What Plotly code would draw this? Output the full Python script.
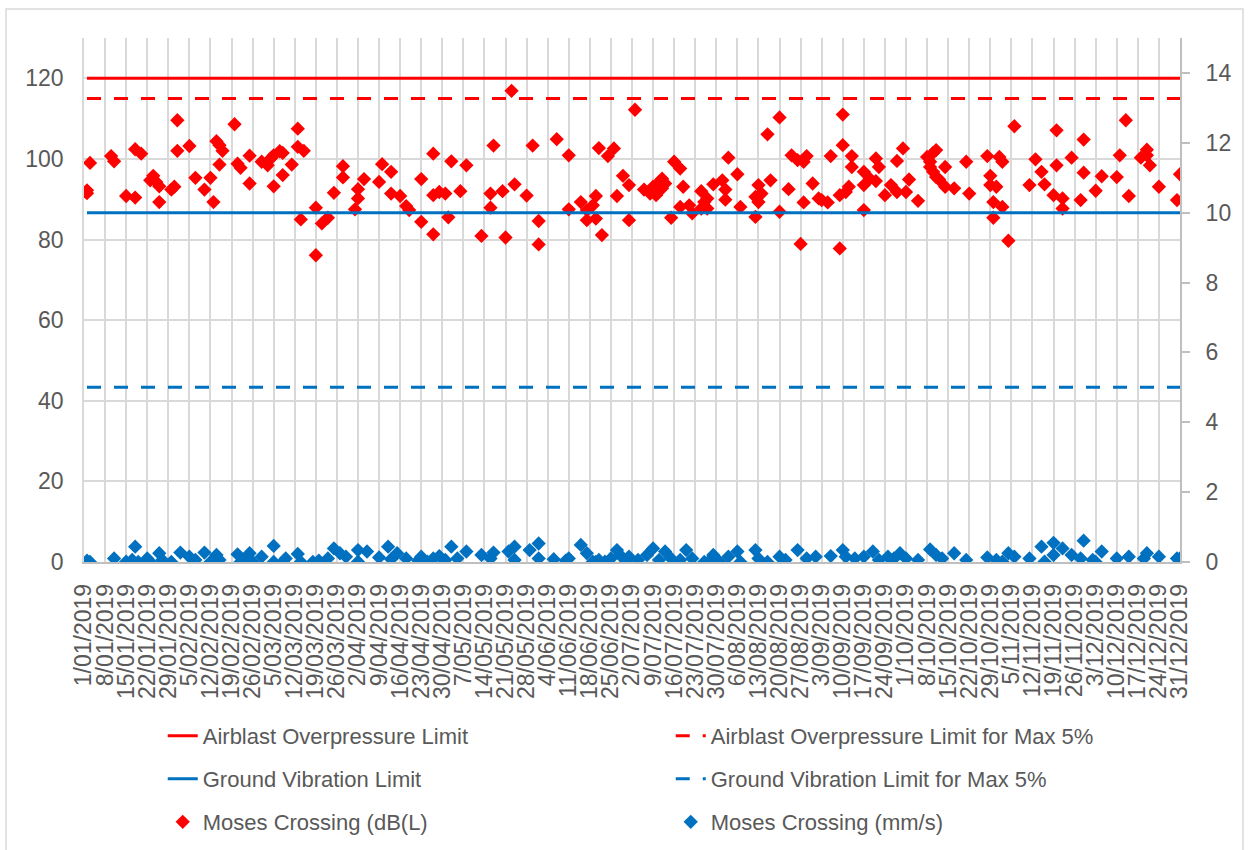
import pandas as pd
import plotly.graph_objects as go

# ---------------- data ----------------
YEAR_START = "2019-01-01"
YEAR_END = "2019-12-31"

# Airblast (dB(L)) readings: day offset from 1 Jan 2019, value
db_days = [1, 1, 2, 9, 10, 14, 17, 17, 19, 22, 23, 24, 25, 25, 29, 30, 31, 31, 35, 37, 40, 42, 43, 44, 45, 46, 45,
           50, 51, 52, 55, 55, 59, 61, 62, 63, 65, 66, 63, 66, 69, 71, 71, 73, 72, 77, 77, 79, 81, 83, 86, 86, 91,
           91, 90, 93, 98, 99, 102, 102, 105, 107, 108, 112, 112,
           116, 116, 118, 120, 116, 121, 122, 125, 127, 132, 135, 135, 136, 139, 140, 142, 143, 147, 149, 151, 151,
           157, 161, 161, 165, 167, 167, 170, 169, 170, 171, 174, 176, 172, 177, 179, 181, 181, 183, 186, 188, 189,
           190, 191, 192, 193, 192, 196, 198, 195, 199, 198, 201, 202, 205, 206, 207, 207, 205, 209, 212, 213, 213,
           214, 217, 218, 223, 224, 225, 223, 224, 227, 228, 231, 231, 234, 235, 237, 239, 240, 239, 238, 242, 244,
           248, 245, 247, 251, 252, 252, 251, 253, 254, 255, 255, 259, 259, 259, 261, 263, 263, 264, 266, 268, 270,
           270, 272, 273, 274, 277, 280, 281, 281, 282, 283, 282, 283, 284, 286, 286, 289, 293, 294, 300, 301, 301,
           303, 302, 302, 304, 305, 305, 307, 309, 314, 316, 318, 319, 322, 325, 325, 323, 323, 328, 331, 332, 332,
           336, 338, 343, 344, 346, 347, 351, 353, 353, 354, 357, 363, 364]
db_values = [92.2, 91.5, 99.0, 100.7, 99.4, 90.8, 90.4, 102.4, 101.3, 94.7, 95.8, 94.3, 93.2, 89.3, 92.4, 93.1, 109.6,
             102.0, 103.2, 95.3, 92.4, 95.3, 89.3, 104.4, 103.4, 102.0, 98.6, 108.6, 98.8, 97.8, 100.8, 93.9, 99.3,
             98.4, 100.1, 100.9, 101.9, 101.5, 93.2, 96.0, 98.6, 107.5, 103.0, 102.0, 85.0, 87.9, 76.1, 84.0, 85.4,
             91.6, 98.2, 95.4, 92.5, 90.2, 87.5, 95.0, 94.3, 98.7, 96.8, 91.4, 90.8, 88.3, 87.3, 95.0, 84.4,
             101.3, 91.0, 91.8, 91.4, 81.3, 85.5, 99.4, 92.0, 98.4, 80.9, 91.4, 87.9, 103.3, 92.0, 80.5, 116.9, 93.7,
             90.9, 103.3, 84.6, 78.8, 104.9, 100.9, 87.5, 89.3, 87.3, 84.8, 85.2, 88.5, 90.8, 102.7, 100.7, 102.6,
             81.1, 90.8, 95.8, 93.5, 84.8, 112.2, 92.4, 91.4, 93.1, 91.0, 94.3, 95.1, 93.9, 92.7, 99.3, 97.6, 85.4,
             93.1, 88.1, 88.5, 86.5, 92.0, 89.3, 87.7, 90.2, 87.7, 93.7, 94.7, 92.4, 89.9, 100.3, 96.2, 88.1, 85.6,
             89.3, 91.4, 90.6, 93.5, 106.1, 94.7, 110.3, 86.9, 92.5, 100.9, 99.7, 99.3, 100.7, 89.2, 78.9, 93.9, 90.2,
             100.7, 89.8, 89.2, 77.8, 111.0, 103.4, 91.0, 91.8, 93.1, 100.7, 98.0, 96.8, 93.5, 87.3, 95.1, 94.5,
             100.1, 98.0, 91.0, 93.5, 91.8, 99.5, 102.6, 91.8, 94.9, 89.6, 100.5, 99.3, 98.0, 96.8, 102.2, 101.5,
             95.5, 94.9, 93.1, 98.0, 92.7, 99.3, 91.4, 100.7, 95.8, 93.5, 93.1, 89.3, 85.4, 100.5, 99.3, 88.1, 79.7,
             108.1, 93.5, 99.9, 96.8, 93.7, 91.0, 90.2, 87.7, 107.1, 98.4, 100.3, 89.8, 104.8, 96.6, 92.1, 95.7,
             95.5, 100.9, 109.6, 90.8, 100.3, 102.3, 100.9, 98.4, 93.1, 89.8, 96.2]

# Ground vibration (mm/s) readings: day offset from 1 Jan 2019, value
mm_days = [1, 2, 10, 14, 16, 17, 18, 21, 22, 25, 26, 29, 32, 35, 37, 40, 42, 44, 45, 51, 52, 54, 55, 56, 59, 63, 63,
           66, 67, 71, 72, 76, 78, 81, 83, 85, 87, 91, 91, 94, 98, 101, 102, 104, 107, 111,
           112, 114, 116, 118, 120, 122, 124, 127, 132, 135, 136, 141, 143, 143, 148, 151, 151, 156, 160, 161, 165,
           167, 169, 170, 171, 173, 175, 177, 178, 180, 181, 184, 187, 189, 191, 193, 195, 198, 200, 202, 206, 208,
           209, 211, 214, 217, 218, 223, 224, 227, 231, 233, 237, 240, 243,
           248, 252, 253, 256, 259, 262, 264, 267, 269, 271, 273, 277, 281, 283, 285, 289, 293, 300, 303, 305, 307,
           309, 314, 318, 319, 322, 322, 325, 328, 331, 332, 335, 336, 338, 343, 347, 352, 353, 357, 363, 364]
mm_values = [0.04, 0.0, 0.1, 0.01, 0.06, 0.44, 0.0, 0.1, 0.0, 0.25, 0.06, 0.0, 0.27, 0.15, 0.06, 0.27, 0.0, 0.2, 0.06,
             0.22, 0.0, 0.1, 0.25, 0.01, 0.15, 0.46, 0.0, 0.0, 0.1, 0.23, 0.0, 0.0, 0.04, 0.1, 0.39, 0.25, 0.15, 0.01,
             0.34, 0.3, 0.13, 0.44, 0.08, 0.25, 0.1, 0.04,
             0.15, 0.01, 0.1, 0.17, 0.06, 0.44, 0.1, 0.3, 0.2, 0.1, 0.27, 0.3, 0.44, 0.06, 0.34, 0.53, 0.1, 0.08,
             0.04, 0.1, 0.49, 0.25, 0.01, 0.0, 0.06, 0.01, 0.1, 0.34, 0.2, 0.0, 0.15, 0.06, 0.2, 0.39, 0.06, 0.3,
             0.1, 0.06, 0.34, 0.1, 0.0, 0.06, 0.2, 0.01, 0.15, 0.3, 0.0, 0.34, 0.1, 0.0, 0.15, 0.06, 0.34, 0.1, 0.15,
             0.17, 0.34, 0.15, 0.1, 0.15, 0.3, 0.06, 0.15, 0.1, 0.25, 0.1, 0.06, 0.36, 0.2, 0.1, 0.25, 0.06, 0.13,
             0.06, 0.01, 0.25, 0.15, 0.1, 0.44, 0.01, 0.55, 0.2, 0.39, 0.2, 0.1, 0.61, 0.06, 0.0, 0.3, 0.1, 0.15,
             0.1, 0.25, 0.15, 0.1, 0.1]

airblast_limit = 120
airblast_limit_5pct = 115
vibration_limit = 10
vibration_limit_5pct = 5

limit_line_days = [1, 364]

left_ticks = [0, 20, 40, 60, 80, 100, 120]
right_ticks = [0, 2, 4, 6, 8, 10, 12, 14]

# ---------------- build ----------------
base = pd.Timestamp(YEAR_START)
db_dates = base + pd.to_timedelta(db_days, unit="D")
mm_dates = base + pd.to_timedelta(mm_days, unit="D")
line_dates = base + pd.to_timedelta(limit_line_days, unit="D")
tick_dates = pd.date_range(YEAR_START, YEAR_END, freq="7D")
tick_text = [f"{d.day}/{d.month:02d}/{d.year}" for d in tick_dates]

RED = "#ff0000"
BLUE = "#0070c0"
GRID = "#d9d9d9"
TXT = "#595959"
FONT = "Liberation Sans, Arial, sans-serif"

fig = go.Figure()

fig.add_trace(go.Scatter(x=line_dates, y=[airblast_limit] * 2, mode="lines",
                         name="Airblast Overpressure Limit", line=dict(color=RED, width=3),
                         legend="legend"))
fig.add_trace(go.Scatter(x=line_dates, y=[airblast_limit_5pct] * 2, mode="lines",
                         name="Airblast Overpressure Limit for Max 5%",
                         line=dict(color=RED, width=3, dash="14px,13px"), legend="legend"))
fig.add_trace(go.Scatter(x=line_dates, y=[vibration_limit] * 2, mode="lines", yaxis="y2",
                         name="Ground Vibration Limit", line=dict(color=BLUE, width=3),
                         legend="legend2"))
fig.add_trace(go.Scatter(x=line_dates, y=[vibration_limit_5pct] * 2, mode="lines", yaxis="y2",
                         name="Ground Vibration Limit for Max 5%",
                         line=dict(color=BLUE, width=3, dash="14px,13px"), legend="legend2"))
fig.add_trace(go.Scatter(x=db_dates, y=db_values, mode="markers", name="Moses Crossing (dB(L)",
                         marker=dict(symbol="diamond", size=11, color=RED, line=dict(width=0)),
                         legend="legend3"))
fig.add_trace(go.Scatter(x=mm_dates, y=mm_values, mode="markers", yaxis="y2", name="Moses Crossing (mm/s)",
                         marker=dict(symbol="diamond", size=11, color=BLUE, line=dict(width=0)),
                         legend="legend3"))

legend_common = dict(orientation="h", xref="container", yref="container", x=0.1304,
                     xanchor="left", yanchor="middle", entrywidth=463, entrywidthmode="pixels",
                     font=dict(family=FONT, size=22, color=TXT), bgcolor="rgba(0,0,0,0)",
                     traceorder="normal")

fig.update_layout(
    width=1248, height=850,
    margin=dict(l=84, r=68, t=38, b=288),
    paper_bgcolor="white", plot_bgcolor="white",
    font=dict(family=FONT, size=22, color=TXT),
    showlegend=True,
    legend=dict(legend_common, y=1 - 736 / 850),
    legend2=dict(legend_common, y=1 - 779 / 850),
    legend3=dict(legend_common, y=1 - 822 / 850),
    xaxis=dict(type="date", range=[YEAR_START, YEAR_END], tickmode="array", tickvals=tick_dates,
               ticktext=tick_text, tickangle=-90, showgrid=True, gridcolor=GRID, gridwidth=1.5,
               showline=True, linecolor="#bfbfbf", linewidth=1.5, ticks="", ticklabelstandoff=11,
               tickfont=dict(size=23, color=TXT), zeroline=False),
    yaxis=dict(range=[0, 130], tickmode="array", tickvals=left_ticks, showgrid=True, gridcolor=GRID,
               gridwidth=1.5, zeroline=False, showline=True, linecolor=GRID, linewidth=1.5, ticks="",
               ticklabelstandoff=14, tickfont=dict(size=23, color=TXT)),
    yaxis2=dict(range=[0, 15], overlaying="y", side="right", tickmode="array", tickvals=right_ticks,
                showgrid=False, zeroline=False, showline=True, linecolor="#bfbfbf", linewidth=2,
                ticks="outside", ticklen=8, tickcolor="#bfbfbf", tickwidth=1.5, ticklabelstandoff=11,
                tickfont=dict(size=23, color=TXT)),
    shapes=[dict(type="rect", xref="paper", yref="paper",
                 x0=(6 - 84) / 1096, x1=(1243 - 84) / 1096, y0=(562 - 860) / 524, y1=(562 - 9) / 524,
                 line=dict(color=GRID, width=1.5), fillcolor="rgba(0,0,0,0)", layer="below")],
)

fig.write_html("out.html")
